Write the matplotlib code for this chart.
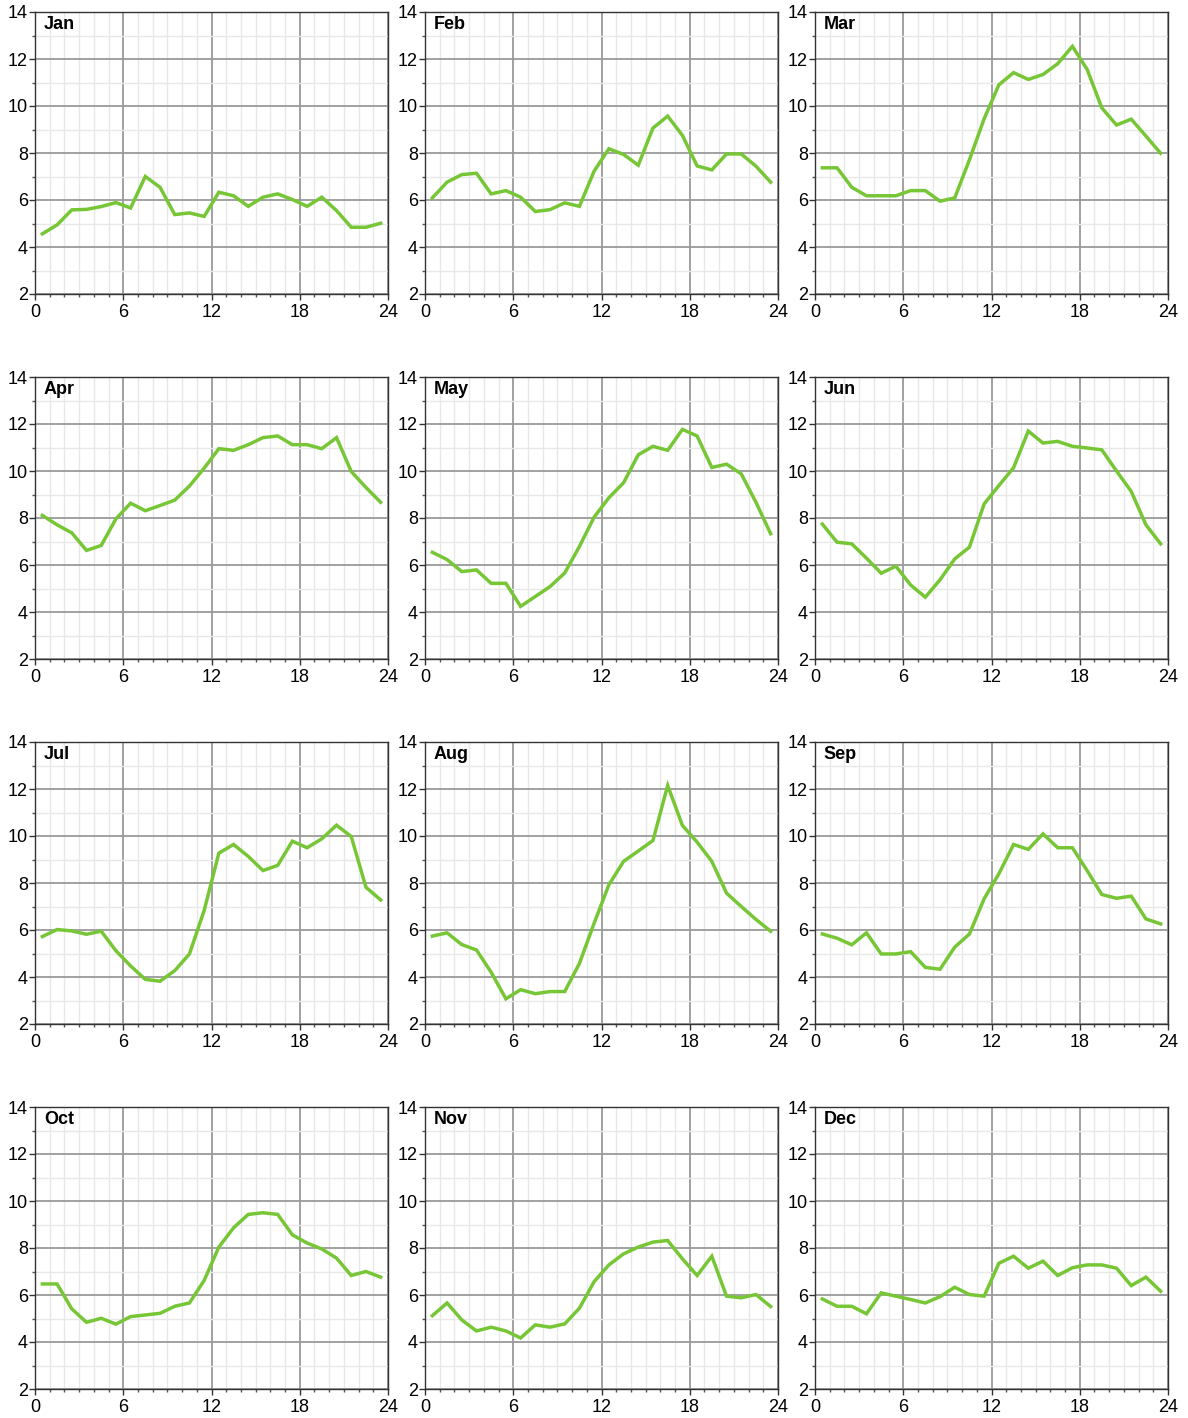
import matplotlib
matplotlib.use('Agg')
import matplotlib.pyplot as plt
from matplotlib.ticker import MultipleLocator
import numpy as np

plt.rcParams['font.family'] = ['Liberation Sans', 'DejaVu Sans']

hours = [h + 0.5 for h in range(24)]
months = ['Jan', 'Feb', 'Mar', 'Apr', 'May', 'Jun',
          'Jul', 'Aug', 'Sep', 'Oct', 'Nov', 'Dec']

jan = [4.56, 4.94, 5.58, 5.6, 5.72, 5.89, 5.66, 7.0, 6.54, 5.38, 5.45, 5.3,
       6.33, 6.18, 5.73, 6.12, 6.26, 6.02, 5.73, 6.12, 5.55, 4.84, 4.84, 5.01]
feb = [6.09, 6.76, 7.08, 7.14, 6.26, 6.4, 6.12, 5.51, 5.59, 5.88, 5.73, 7.23,
       8.18, 7.94, 7.48, 9.06, 9.57, 8.75, 7.45, 7.28, 7.96, 7.96, 7.44, 6.76]
mar = [7.37, 7.37, 6.54, 6.18, 6.18, 6.18, 6.4, 6.4, 5.95, 6.09, 7.71, 9.46,
       10.9, 11.42, 11.13, 11.34, 11.8, 12.54, 11.56, 9.92, 9.19, 9.44, 8.72, 7.99]
apr = [8.11, 7.71, 7.37, 6.62, 6.83, 7.96, 8.63, 8.31, 8.53, 8.76, 9.36, 10.12,
       10.95, 10.88, 11.12, 11.42, 11.49, 11.12, 11.12, 10.95, 11.42, 9.98, 9.3, 8.67]
may = [6.54, 6.23, 5.72, 5.79, 5.22, 5.22, 4.24, 4.66, 5.08, 5.66, 6.79, 8.04,
       8.86, 9.5, 10.69, 11.05, 10.88, 11.77, 11.49, 10.15, 10.29, 9.88, 8.67, 7.33]
jun = [7.74, 6.97, 6.9, 6.29, 5.65, 5.95, 5.15, 4.63, 5.37, 6.26, 6.76, 8.6,
       9.38, 10.14, 11.7, 11.19, 11.26, 11.05, 10.98, 10.9, 10.0, 9.13, 7.71, 6.9]
jul = [5.72, 6.02, 5.96, 5.82, 5.95, 5.12, 4.47, 3.9, 3.82, 4.27, 4.98, 6.83,
       9.27, 9.64, 9.13, 8.53, 8.75, 9.78, 9.5, 9.88, 10.46, 9.98, 7.82, 7.28]
aug = [5.74, 5.88, 5.38, 5.15, 4.2, 3.07, 3.46, 3.29, 3.38, 3.38, 4.58, 6.29,
       7.92, 8.92, 9.36, 9.81, 12.15, 10.45, 9.74, 8.92, 7.57, 7.0, 6.45, 5.95]
sep = [5.83, 5.65, 5.37, 5.88, 4.98, 4.98, 5.08, 4.41, 4.33, 5.27, 5.83, 7.33,
       8.39, 9.64, 9.43, 10.09, 9.5, 9.5, 8.53, 7.51, 7.35, 7.44, 6.47, 6.26]
oct_ = [6.47, 6.47, 5.41, 4.84, 5.01, 4.76, 5.08, 5.15, 5.22, 5.52, 5.66, 6.62,
        8.04, 8.86, 9.43, 9.5, 9.43, 8.56, 8.21, 7.96, 7.57, 6.83, 7.0, 6.76]
nov = [5.12, 5.66, 4.94, 4.47, 4.63, 4.47, 4.17, 4.73, 4.63, 4.77, 5.44, 6.57,
       7.28, 7.75, 8.04, 8.25, 8.32, 7.54, 6.83, 7.65, 5.95, 5.88, 6.02, 5.51]
dec = [5.83, 5.52, 5.52, 5.2, 6.09, 5.95, 5.81, 5.66, 5.93, 6.33, 6.02, 5.95,
       7.35, 7.65, 7.14, 7.44, 6.83, 7.16, 7.28, 7.28, 7.14, 6.4, 6.76, 6.16]

series = [jan, feb, mar, apr, may, jun, jul, aug, sep, oct_, nov, dec]

W, H = 1188, 1418
fig = plt.figure(figsize=(W / 100, H / 100), dpi=100)

lefts = [35, 425, 815]
tops = [12, 377, 742, 1107]
aw, ah = 353, 282

for i, (name, vals) in enumerate(zip(months, series)):
    r, c = divmod(i, 3)
    ax = fig.add_axes([lefts[c] / W, 1 - (tops[r] + ah) / H, aw / W, ah / H])
    ax.plot(hours, vals, color='#77c636', lw=2.5, solid_joinstyle='miter', zorder=3)
    ax.set_xlim(0, 24)
    ax.set_ylim(2, 14)
    ax.xaxis.set_major_locator(MultipleLocator(6))
    ax.xaxis.set_minor_locator(MultipleLocator(1))
    ax.yaxis.set_major_locator(MultipleLocator(2))
    ax.yaxis.set_minor_locator(MultipleLocator(1))
    ax.grid(which='minor', color='#e8e8e8', lw=1.0, zorder=0)
    ax.grid(which='major', color='#9a9a9a', lw=1.3, zorder=1)
    ax.set_axisbelow(True)
    ax.tick_params(which='major', length=4, width=1, color='#333333',
                   labelsize=13, pad=1)
    ax.tick_params(axis='x', which='major', pad=3)
    ax.tick_params(which='minor', length=2, width=1, color='#555555')
    for s in ax.spines.values():
        s.set_color('#333333')
        s.set_linewidth(1.0)
    ax.text(0.025, 0.985, name, transform=ax.transAxes, fontsize=13,
            fontweight='bold', ha='left', va='top')

fig.savefig('out.png', dpi=100)
